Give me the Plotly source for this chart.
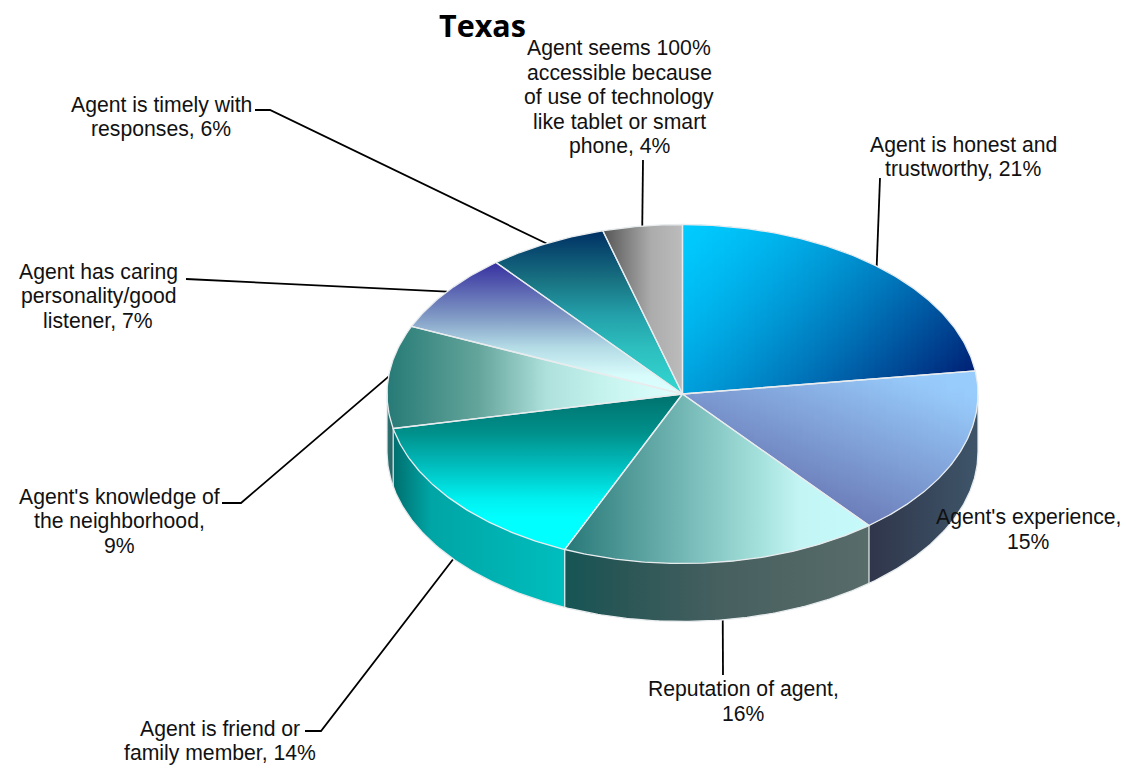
import math
import plotly.graph_objects as go

# ---- data ----
title = "Texas"
categories = ["Agent is honest and trustworthy", "Agent's experience", "Reputation of agent",
              "Agent is friend or family member", "Agent's knowledge of the neighborhood",
              "Agent has caring personality/good listener", "Agent is timely with responses",
              "Agent seems 100% accessible because of use of technology like tablet or smart phone"]
values = [21, 15, 16, 14, 9, 7, 6, 4]

# ---- layout of the drawing (pixel space of the page) ----
W, H = 1123, 770
CX, CY, RX, RY, DEPTH = 682.5, 394, 295.5, 169.5, 58
LINE_STEP = 24.4

label_lines = [["Agent is honest and", "trustworthy, {}%"],
               ["Agent's experience,", "{}%"],
               ["Reputation of agent,", "{}%"],
               ["Agent is friend or", "family member, {}%"],
               ["Agent's knowledge of", "the neighborhood,", "{}%"],
               ["Agent has caring", "personality/good", "listener, {}%"],
               ["Agent is timely with", "responses, {}%"],
               ["Agent seems 100%", "accessible because", "of use of technology", "like tablet or smart", "phone, {}%"]]
label_pos = [(963, 157), (1028, 529), (743, 701), (220, 741), (119, 521), (98, 296), (161, 117), (619, 97)]
leader_knees = [[(880, 178)], [], [(723, 675)], [(321, 731), (305, 731)], [(241, 503), (222, 503)],
                [(186, 279)], [(270, 110), (255, 110)], [(643, 160)]]

# gradients of top faces: (type, start, stop, stops)
top_grad = [
    None,
    None,
    ("horizontal", 565, 870, [(0, (40, 120, 120)), (0.64, (165, 225, 220)), (0.77, (195, 245, 245)), (1, (198, 250, 250))]),
    ("vertical", 393, 549, [(0, (0, 112, 108)), (0.26, (0, 145, 140)), (0.47, (0, 190, 190)), (0.68, (0, 240, 240)),
                            (0.8, (0, 255, 255)), (1, (0, 255, 255))]),
    ("horizontal", 387, 683, [(0, (38, 122, 118)), (0.31, (100, 165, 155)), (0.54, (175, 225, 220)),
                              (0.76, (200, 245, 240)), (1, (225, 255, 255))]),
    ("vertical", 263, 393, [(0, (55, 48, 160)), (0.4, (125, 150, 195)), (0.65, (180, 220, 230)),
                            (0.86, (215, 250, 250)), (1, (220, 255, 255))]),
    ("vertical", 231, 393, [(0, (0, 48, 100)), (0.31, (25, 115, 130)), (0.52, (35, 160, 170)),
                            (0.72, (45, 190, 190)), (1, (50, 215, 210))]),
    ("horizontal", 603, 683, [(0, (85, 85, 85)), (0.6, (172, 172, 172)), (1, (188, 188, 188))]),
]
side_grad = {
    1: (870, 978, [(0, (48, 54, 75)), (1, (62, 85, 105))]),
    2: (565, 870, [(0, (22, 85, 85)), (0.16, (40, 85, 85)), (0.5, (70, 95, 95)), (1, (88, 108, 106))]),
    3: (393, 565, [(0, (0, 110, 110)), (0.22, (0, 165, 165)), (1, (0, 190, 190))]),
    4: (387, 393, [(0, (45, 115, 115)), (1, (40, 100, 100))]),
}


def rgb(c):
    return "rgb({},{},{})".format(*[int(round(v)) for v in c])


def scale(stops):
    return [[p, rgb(c)] for p, c in stops]


def lerp(a, b, s):
    return tuple(a[i] + (b[i] - a[i]) * s for i in range(3))


def pt(t, dy=0):
    return CX + RX * math.sin(t), CY - RY * math.cos(t) + dy


def arc(t0, t1, dy=0):
    n = max(2, int(abs(t1 - t0) / 0.01))
    return [pt(t0 + (t1 - t0) * i / n, dy) for i in range(n + 1)]


def clip_x(poly, x0, x1):
    def cut(points, inside, xb):
        out = []
        for i, p in enumerate(points):
            q = points[(i + 1) % len(points)]
            if inside(p):
                out.append(p)
            if inside(p) != inside(q):
                s = (xb - p[0]) / (q[0] - p[0])
                out.append((xb, p[1] + (q[1] - p[1]) * s))
        return out
    r = cut(poly, lambda p: p[0] >= x0, x0)
    return cut(r, lambda p: p[0] <= x1, x1) if r else r


def color_slice1(x, y):
    s = 0.0023 * (x - CX) + 0.0022 * (y - 225)
    s = min(1, max(0, s)) ** 1.4
    return lerp((0, 203, 255), (0, 30, 115), s)


def color_slice2(x, y):
    s = 0.00246 * (978 - x) + 0.0059 * (y - 400)
    s = min(1, max(0, s))
    return lerp((152, 204, 252), (108, 125, 185), s)


diagonal = {0: color_slice1, 1: color_slice2}

total = sum(values)
edges = [0.0]
for v in values:
    edges.append(edges[-1] + v / total * 2 * math.pi)
mids = [(edges[i] + edges[i + 1]) / 2 for i in range(len(values))]

fig = go.Figure()


def add_poly(poly, **kw):
    fig.add_trace(go.Scatter(x=[p[0] for p in poly], y=[p[1] for p in poly], mode="lines",
                             line=dict(width=0), fill="toself", hoverinfo="skip", showlegend=False, **kw))


def add_line(poly, color, width):
    fig.add_trace(go.Scatter(x=[p[0] for p in poly], y=[p[1] for p in poly], mode="lines",
                             line=dict(color=color, width=width), hoverinfo="skip", showlegend=False))


# leader lines, behind the pie
for i, knees in enumerate(leader_knees):
    if not knees:
        continue
    t = mids[i]
    visible_side = math.pi / 2 < t < 3 * math.pi / 2
    start = pt(t, DEPTH if visible_side else 0)
    add_line([start] + knees, "black", 1.8)

# outer sides
for i, (x0, x1, stops) in side_grad.items():
    a = max(edges[i], math.pi / 2)
    b = min(edges[i + 1], 3 * math.pi / 2)
    poly = arc(a, b) + arc(b, a, DEPTH)
    add_poly(poly, fillgradient=dict(type="horizontal", start=x0, stop=x1, colorscale=scale(stops)))

# top faces
for i in range(len(values)):
    poly = [(CX, CY)] + arc(edges[i], edges[i + 1])
    if i in diagonal:
        xs = [p[0] for p in poly]
        x = min(xs)
        while x < max(xs):
            strip = clip_x(poly, x, x + 7)
            if len(strip) > 2:
                ys = [p[1] for p in strip]
                y0, y1 = min(ys), max(ys)
                if y1 - y0 > 0.01:
                    stops = [(k / 6, diagonal[i](x + 3, y0 + (y1 - y0) * k / 6)) for k in range(7)]
                    add_poly(strip, fillgradient=dict(type="vertical", start=y0, stop=y1, colorscale=scale(stops)))
            x += 6
    else:
        kind, a, b, stops = top_grad[i]
        add_poly(poly, fillgradient=dict(type=kind, start=a, stop=b, colorscale=scale(stops)))

# edges
EDGE = "rgb(232,236,238)"
for i in range(len(values)):
    add_line([(CX, CY)] + arc(edges[i], edges[i + 1]) + [(CX, CY)], EDGE, 1.3)
add_line(arc(math.pi / 2, 3 * math.pi / 2, DEPTH), EDGE, 1.3)
for t in [math.pi / 2, 3 * math.pi / 2] + edges[2:5]:
    add_line([pt(t), pt(t, DEPTH)], EDGE, 1.2)

# labels: one annotation per line, so that the line step can follow the reference
annotations = []
for lines, (x, y), v in zip(label_lines, label_pos, values):
    for j, line in enumerate(lines):
        annotations.append(dict(x=x, y=y + (j - (len(lines) - 1) / 2) * LINE_STEP, xref="x", yref="y",
                                showarrow=False, xanchor="center", yanchor="middle", align="center",
                                text=line.format(v),
                                font=dict(family="Liberation Sans", size=21.2, color="#111111")))

fig.update_layout(
    width=W, height=H, autosize=False, margin=dict(l=0, r=0, t=0, b=0),
    paper_bgcolor="white", plot_bgcolor="white", showlegend=False,
    title=dict(text="<b>" + title + "</b>", x=482.5 / W, xanchor="center", y=1 - 26 / H, yanchor="middle",
               font=dict(family="Open Sans", size=30.5, color="black")),
    xaxis=dict(range=[0, W], visible=False, fixedrange=True),
    yaxis=dict(range=[H, 0], visible=False, fixedrange=True),
    annotations=annotations,
)

fig.write_html("out.html", config={"displayModeBar": False},
               post_script="document.body.style.margin='0';document.body.style.overflow='hidden';")
